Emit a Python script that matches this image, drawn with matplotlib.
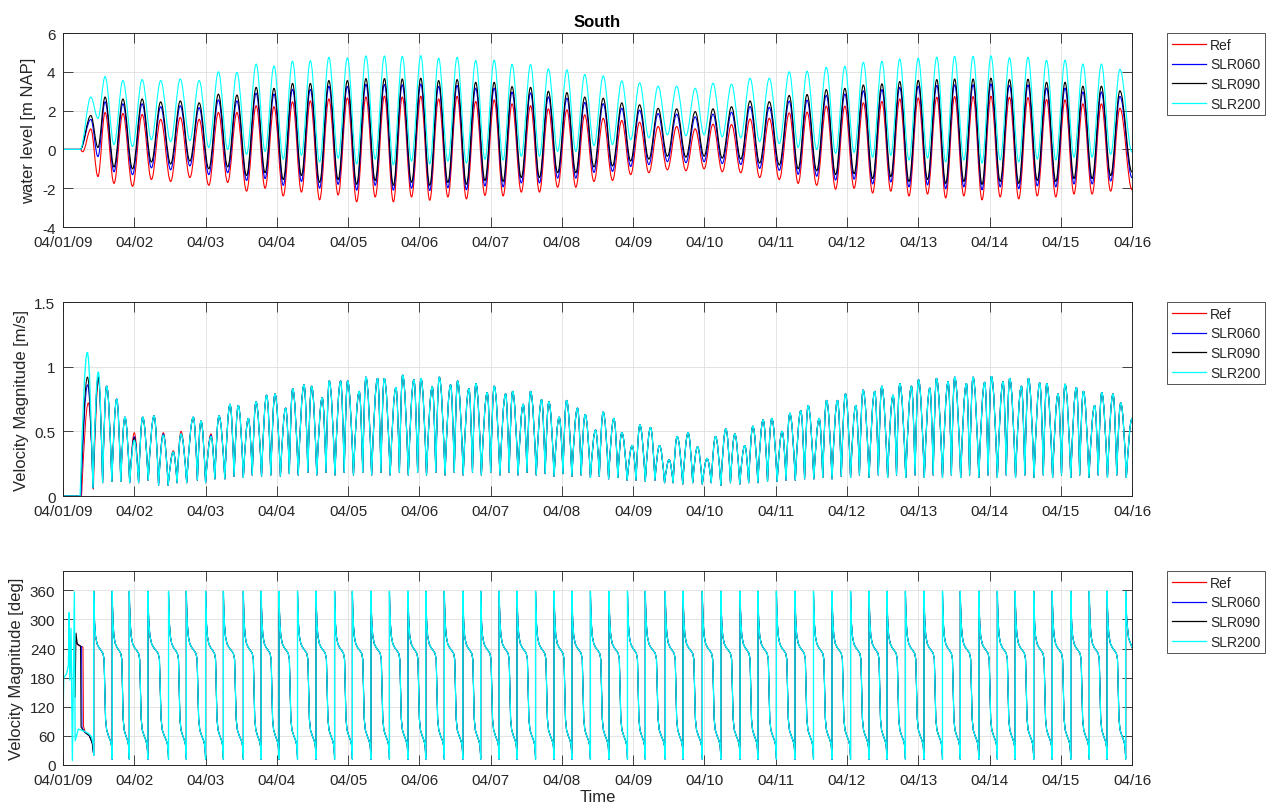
import matplotlib
matplotlib.use('Agg')
import matplotlib.pyplot as plt
from matplotlib.path import Path
from matplotlib.patches import PathPatch
from matplotlib.lines import Line2D

plt.rcParams['font.family'] = ['Liberation Sans', 'DejaVu Sans']
plt.rcParams['axes.unicode_minus'] = False

# ---------------------------------------------------------------- axes / labels
day_ticks = list(range(16))
day_labels = ['04/01/09', '04/02', '04/03', '04/04', '04/05', '04/06', '04/07', '04/08',
              '04/09', '04/10', '04/11', '04/12', '04/13', '04/14', '04/15', '04/16']
series_names = ['Ref', 'SLR060', 'SLR090', 'SLR200']
series_colors = ['#ff0000', '#0000ff', '#000000', '#00ffff']

wl_yticks = [-4, -2, 0, 2, 4, 6]
vel_yticks = [0, 0.5, 1, 1.5]
vel_yticklabels = ['0', '0.5', '1', '1.5']
dir_yticks = [0, 60, 120, 180, 240, 300, 360]

# ---------------------------------------------------------------- water level (m NAP)
# times (days after 04/01/09 00:00) of high and low waters
hw_t = [0.39, 0.59, 0.84, 1.11, 1.37, 1.645, 1.91, 2.18, 2.44, 2.71,
        2.96, 3.22, 3.47, 3.73, 3.99, 4.25, 4.51, 4.76, 5.02, 5.27,
        5.53, 5.79, 6.05, 6.30, 6.56, 6.81, 7.07, 7.32, 7.58, 7.84,
        8.09, 8.35, 8.61, 8.87, 9.12, 9.38, 9.64, 9.91, 10.19, 10.44,
        10.71, 10.97, 11.23, 11.49, 11.74, 12.00, 12.26, 12.51, 12.77, 13.02,
        13.28, 13.54, 13.80, 14.06, 14.31, 14.57, 14.83]
lw_t = [0.49, 0.715, 0.975, 1.24, 1.51, 1.78, 2.045, 2.31, 2.575, 2.835,
        3.09, 3.345, 3.60, 3.86, 4.12, 4.38, 4.635, 4.89, 5.145, 5.40,
        5.66, 5.92, 6.175, 6.43, 6.685, 6.94, 7.195, 7.45, 7.71, 7.965,
        8.22, 8.48, 8.74, 8.995, 9.25, 9.51, 9.775, 10.05, 10.315, 10.575,
        10.84, 11.10, 11.36, 11.615, 11.87, 12.13, 12.385, 12.64, 12.895, 13.15,
        13.41, 13.67, 13.93, 14.185, 14.44, 14.70, 15.0]

wl_ref_hi = [1.05, 1.90, 1.85, 1.80, 1.55, 1.65, 1.55, 1.90, 1.90, 2.25,
             2.20, 2.45, 2.50, 2.60, 2.65, 2.70, 2.75, 2.70, 2.74, 2.60,
             2.74, 2.47, 2.55, 2.35, 2.25, 2.09, 2.04, 1.78, 1.60, 1.49,
             1.40, 1.18, 1.18, 1.06, 1.30, 1.28, 1.57, 1.60, 1.88, 1.92,
             2.23, 2.23, 2.40, 2.47, 2.60, 2.65, 2.69, 2.72, 2.72, 2.74,
             2.69, 2.67, 2.57, 2.55, 2.35, 2.35, 2.12]
wl_ref_lo = [-1.40, -1.75, -1.90, -1.55, -1.65, -1.45, -1.85, -1.70, -2.15, -2.00,
             -2.40, -2.20, -2.60, -2.35, -2.70, -2.45, -2.70, -2.45, -2.62, -2.45,
             -2.55, -2.37, -2.40, -2.20, -2.20, -1.95, -1.95, -1.65, -1.60, -1.30,
             -1.20, -1.05, -1.10, -1.00, -1.15, -1.20, -1.45, -1.55, -1.75, -1.85,
             -2.05, -2.00, -2.25, -2.15, -2.40, -2.30, -2.50, -2.40, -2.60, -2.45,
             -2.55, -2.40, -2.45, -2.30, -2.30, -2.15, -2.08]
wl_060_hi = [1.55, 2.45, 2.35, 2.35, 2.20, 2.25, 2.15, 2.55, 2.50, 2.90,
             2.85, 3.10, 3.10, 3.25, 3.25, 3.35, 3.35, 3.33, 3.37, 3.25,
             3.30, 3.16, 3.16, 2.95, 2.91, 2.71, 2.64, 2.42, 2.36, 2.12,
             2.02, 1.85, 1.82, 1.68, 1.82, 1.92, 2.21, 2.17, 2.49, 2.54,
             2.79, 2.85, 3.02, 3.08, 3.20, 3.26, 3.30, 3.33, 3.33, 3.37,
             3.30, 3.32, 3.16, 3.16, 2.96, 2.96, 2.73]
wl_060_lo = [-0.37, -1.15, -1.30, -0.95, -1.05, -0.85, -1.30, -1.20, -1.60, -1.50,
             -1.85, -1.65, -2.00, -1.80, -2.10, -1.85, -2.10, -2.00, -2.12, -1.98,
             -2.08, -1.88, -1.93, -1.73, -1.73, -1.48, -1.48, -1.18, -1.13, -0.88,
             -0.78, -0.63, -0.68, -0.63, -0.73, -0.78, -0.98, -1.08, -1.28, -1.38,
             -1.58, -1.53, -1.78, -1.68, -1.93, -1.83, -2.03, -1.93, -2.08, -1.93,
             -2.03, -1.88, -1.93, -1.78, -1.78, -1.63, -1.46]
wl_090_hi = [1.75, 2.70, 2.60, 2.60, 2.45, 2.50, 2.40, 2.85, 2.80, 3.20,
             3.15, 3.40, 3.40, 3.55, 3.55, 3.65, 3.65, 3.63, 3.67, 3.55,
             3.60, 3.46, 3.46, 3.24, 3.20, 3.00, 2.93, 2.70, 2.64, 2.40,
             2.30, 2.12, 2.09, 1.95, 2.09, 2.20, 2.50, 2.46, 2.78, 2.83,
             3.08, 3.15, 3.32, 3.38, 3.50, 3.56, 3.60, 3.63, 3.63, 3.67,
             3.60, 3.62, 3.46, 3.46, 3.26, 3.26, 3.02]
wl_090_lo = [0.10, -0.90, -1.00, -0.65, -0.75, -0.60, -1.00, -0.90, -1.35, -1.20,
             -1.55, -1.35, -1.70, -1.55, -1.80, -1.60, -1.85, -1.70, -1.85, -1.70,
             -1.80, -1.60, -1.65, -1.45, -1.45, -1.20, -1.20, -0.90, -0.85, -0.60,
             -0.50, -0.35, -0.40, -0.35, -0.45, -0.50, -0.70, -0.80, -1.00, -1.10,
             -1.30, -1.25, -1.50, -1.40, -1.65, -1.55, -1.75, -1.65, -1.80, -1.65,
             -1.75, -1.60, -1.65, -1.50, -1.50, -1.35, -1.17]
wl_200_hi = [2.70, 3.75, 3.55, 3.60, 3.55, 3.63, 3.55, 4.00, 3.97, 4.40,
             4.30, 4.55, 4.57, 4.75, 4.72, 4.82, 4.82, 4.80, 4.83, 4.70,
             4.75, 4.58, 4.60, 4.39, 4.37, 4.15, 4.10, 3.86, 3.79, 3.53,
             3.43, 3.26, 3.26, 3.15, 3.41, 3.36, 3.67, 3.67, 4.00, 4.03,
             4.23, 4.28, 4.49, 4.54, 4.66, 4.70, 4.76, 4.80, 4.80, 4.82,
             4.73, 4.75, 4.59, 4.60, 4.40, 4.40, 4.13]
wl_200_lo = [1.60, 0.25, 0.15, 0.50, 0.40, 0.45, 0.10, 0.00, -0.25, -0.10,
             -0.50, -0.30, -0.65, -0.45, -0.75, -0.50, -0.80, -0.60, -0.75, -0.60,
             -0.70, -0.50, -0.55, -0.35, -0.35, -0.10, -0.10, 0.20, 0.25, 0.50,
             0.60, 0.75, 0.70, 0.75, 0.65, 0.60, 0.40, 0.30, 0.10, 0.00,
             -0.20, -0.15, -0.40, -0.30, -0.55, -0.45, -0.65, -0.55, -0.70, -0.55,
             -0.65, -0.50, -0.55, -0.40, -0.40, -0.25, -0.14]
# quiet start before the tide enters the model
wl_start_t = {'Ref': [0.0, 0.24, 0.275], 'SLR060': [0.0, 0.24], 'SLR090': [0.0, 0.24], 'SLR200': [0.0, 0.24]}
wl_start_v = {'Ref': [0.0, 0.0, -0.12], 'SLR060': [0.0, 0.0], 'SLR090': [0.0, 0.0], 'SLR200': [0.0, 0.0]}

# ---------------------------------------------------------------- velocity magnitude (m/s)
# alternating extremes (start-up part differs per run, the rest is shared)
vel_start_t = {
    'Ref':    [0.0, 0.26, 0.355, 0.425, 0.50, 0.555, 0.612, 0.685, 0.753, 0.81, 0.869, 0.935, 1.000, 1.06, 1.117, 1.195, 1.277, 1.34, 1.407, 1.475, 1.547, 1.60, 1.655, 1.735, 1.828, 1.885, 1.936, 2.00, 2.076, 2.13],
    'SLR060': [0.0, 0.25, 0.345, 0.42, 0.495, 0.555, 0.612, 0.685, 0.753, 0.81, 0.869, 0.935, 1.000, 1.06, 1.117, 1.195, 1.277, 1.34, 1.407, 1.475, 1.547, 1.60, 1.655, 1.735, 1.828, 1.885, 1.936, 2.00, 2.076, 2.13],
    'SLR090': [0.0, 0.245, 0.343, 0.42, 0.495, 0.555, 0.612, 0.685, 0.753, 0.81, 0.869, 0.935, 1.000, 1.06, 1.117, 1.195, 1.277, 1.34, 1.407, 1.475, 1.547, 1.60, 1.655, 1.735, 1.828, 1.885, 1.936, 2.00, 2.076, 2.13],
    'SLR200': [0.0, 0.24, 0.341, 0.42, 0.495, 0.555, 0.612, 0.685, 0.753, 0.81, 0.869, 0.935, 1.000, 1.06, 1.117, 1.195, 1.277, 1.34, 1.407, 1.475, 1.547, 1.60, 1.655, 1.735, 1.828, 1.885, 1.936, 2.00, 2.076, 2.13],
}
vel_start_v = {
    'Ref':    [0.0, 0.0, 0.72, 0.05, 0.90, 0.10, 0.85, 0.11, 0.75, 0.11, 0.61, 0.10, 0.49, 0.10, 0.61, 0.12, 0.62, 0.08, 0.49, 0.08, 0.35, 0.10, 0.50, 0.10, 0.61, 0.12, 0.58, 0.10, 0.48, 0.13],
    'SLR060': [0.0, 0.0, 0.86, 0.06, 0.92, 0.10, 0.85, 0.11, 0.75, 0.11, 0.61, 0.10, 0.46, 0.10, 0.61, 0.12, 0.62, 0.08, 0.48, 0.08, 0.34, 0.10, 0.48, 0.10, 0.61, 0.12, 0.58, 0.10, 0.47, 0.13],
    'SLR090': [0.0, 0.0, 0.92, 0.06, 0.92, 0.10, 0.85, 0.11, 0.75, 0.11, 0.61, 0.10, 0.45, 0.10, 0.61, 0.12, 0.62, 0.08, 0.47, 0.08, 0.34, 0.10, 0.48, 0.10, 0.61, 0.12, 0.58, 0.10, 0.46, 0.13],
    'SLR200': [0.0, 0.0, 1.11, 0.06, 0.96, 0.10, 0.85, 0.11, 0.75, 0.11, 0.61, 0.10, 0.43, 0.10, 0.61, 0.12, 0.62, 0.08, 0.47, 0.08, 0.34, 0.10, 0.48, 0.10, 0.61, 0.12, 0.58, 0.10, 0.46, 0.13],
}
vel_t = [2.188, 2.27, 2.343, 2.40, 2.459, 2.53, 2.600, 2.655, 2.707, 2.785,
         2.857, 2.915, 2.974, 3.05, 3.124, 3.175, 3.222, 3.30, 3.381, 3.435,
         3.488, 3.56, 3.637, 3.69, 3.735, 3.815, 3.895, 3.945, 3.993, 4.075,
         4.156, 4.205, 4.250, 4.33, 4.414, 4.46, 4.507, 4.59, 4.671, 4.72,
         4.765, 4.845, 4.923, 4.975, 5.022, 5.10, 5.181, 5.23, 5.279, 5.36,
         5.438, 5.49, 5.536, 5.615, 5.695, 5.745, 5.793, 5.87, 5.952, 6.00,
         6.050, 6.13, 6.210, 6.26, 6.308, 6.385, 6.457, 6.51, 6.560, 6.64,
         6.715, 6.765, 6.817, 6.89, 6.962, 7.015, 7.065, 7.14, 7.219, 7.27,
         7.327, 7.40, 7.472, 7.525, 7.579, 7.655, 7.729, 7.785, 7.841, 7.915,
         7.986, 8.04, 8.094, 8.17, 8.244, 8.305, 8.370, 8.44, 8.505, 8.56,
         8.617, 8.695, 8.771, 8.835, 8.903, 8.97, 9.038, 9.095, 9.155, 9.23,
         9.300, 9.365, 9.426, 9.495, 9.566, 9.62, 9.679, 9.75, 9.823, 9.885,
         9.945, 10.02, 10.090, 10.145, 10.198, 10.275, 10.352, 10.405, 10.455, 10.535,
         10.610, 10.66, 10.713, 10.79, 10.867, 10.92, 10.979, 11.05, 11.124, 11.175,
         11.226, 11.31, 11.390, 11.44, 11.488, 11.57, 11.647, 11.695, 11.741, 11.825,
         11.905, 11.955, 12.003, 12.085, 12.162, 12.21, 12.255, 12.34, 12.419, 12.465,
         12.512, 12.595, 12.676, 12.72, 12.769, 12.85, 12.933, 12.98, 13.026, 13.11,
         13.190, 13.235, 13.283, 13.365, 13.448, 13.495, 13.546, 13.625, 13.705, 13.755,
         13.803, 13.885, 13.962, 14.01, 14.060, 14.14, 14.219, 14.265, 14.317, 14.395,
         14.476, 14.525, 14.574, 14.655, 14.733, 14.785, 14.841, 14.92, 15.0]
vel_v = [0.62, 0.13, 0.71, 0.15, 0.70, 0.14, 0.60, 0.16, 0.73, 0.15,
         0.78, 0.16, 0.79, 0.15, 0.68, 0.17, 0.83, 0.16, 0.86, 0.18,
         0.85, 0.16, 0.76, 0.18, 0.89, 0.16, 0.89, 0.18, 0.89, 0.16,
         0.81, 0.18, 0.92, 0.16, 0.91, 0.18, 0.91, 0.16, 0.84, 0.18,
         0.935, 0.16, 0.90, 0.18, 0.91, 0.16, 0.845, 0.18, 0.92, 0.16,
         0.86, 0.18, 0.89, 0.16, 0.83, 0.18, 0.87, 0.16, 0.80, 0.18,
         0.85, 0.16, 0.79, 0.18, 0.81, 0.16, 0.71, 0.18, 0.81, 0.16,
         0.745, 0.17, 0.73, 0.15, 0.61, 0.17, 0.74, 0.15, 0.68, 0.16,
         0.63, 0.14, 0.51, 0.15, 0.65, 0.13, 0.60, 0.14, 0.49, 0.12,
         0.39, 0.12, 0.55, 0.11, 0.53, 0.12, 0.39, 0.10, 0.28, 0.10,
         0.46, 0.09, 0.49, 0.10, 0.38, 0.09, 0.29, 0.10, 0.46, 0.08,
         0.52, 0.10, 0.48, 0.09, 0.39, 0.10, 0.54, 0.10, 0.59, 0.11,
         0.60, 0.11, 0.50, 0.12, 0.64, 0.12, 0.66, 0.13, 0.70, 0.13,
         0.60, 0.14, 0.74, 0.13, 0.74, 0.15, 0.79, 0.14, 0.70, 0.16,
         0.82, 0.14, 0.81, 0.16, 0.85, 0.14, 0.78, 0.16, 0.87, 0.14,
         0.85, 0.16, 0.90, 0.14, 0.835, 0.16, 0.91, 0.14, 0.885, 0.16,
         0.92, 0.14, 0.87, 0.16, 0.92, 0.14, 0.88, 0.16, 0.925, 0.14,
         0.885, 0.16, 0.91, 0.14, 0.85, 0.16, 0.91, 0.14, 0.875, 0.16,
         0.87, 0.14, 0.79, 0.16, 0.865, 0.14, 0.84, 0.16, 0.81, 0.14,
         0.70, 0.16, 0.80, 0.14, 0.79, 0.16, 0.72, 0.14, 0.60]

# ---------------------------------------------------------------- flow direction (deg)
dir_start_t = {
    'Ref':    [0.19, 0.22, 0.28, 0.287, 0.31, 0.37, 0.41, 0.43],
    'SLR060': [0.18, 0.21, 0.26, 0.266, 0.30, 0.37, 0.41, 0.43],
    'SLR090': [0.17, 0.182, 0.20, 0.245, 0.252, 0.30, 0.37, 0.41, 0.43],
    'SLR200': [0.0, 0.01, 0.05, 0.075, 0.084, 0.095, 0.112, 0.131, 0.159, 0.17, 0.215, 0.29, 0.355, 0.40, 0.425, 0.43],
}
dir_start_v = {
    'Ref':    [250, 246, 243, 80, 68, 60, 45, 20],
    'SLR060': [255, 248, 244, 78, 68, 60, 45, 20],
    'SLR090': [140, 272, 250, 245, 78, 68, 60, 45, 20],
    'SLR200': [90, 180, 188, 205, 314, 175, 282, 9, 357, 50, 74, 70, 65, 58, 41, 20],
}
# wrap-around instants (direction passes 0/360)
dir_jump_t = [0.43, 0.69, 0.93, 1.19, 1.48, 1.73, 2.00, 2.25, 2.53, 2.78,
              3.03, 3.29, 3.55, 3.81, 4.06, 4.32, 4.58, 4.84, 5.09, 5.35,
              5.61, 5.86, 6.12, 6.37, 6.63, 6.89, 7.14, 7.40, 7.66, 7.92,
              8.17, 8.45, 8.70, 8.97, 9.23, 9.50, 9.75, 10.01, 10.27, 10.53,
              10.79, 11.05, 11.31, 11.56, 11.82, 12.08, 12.34, 12.59, 12.85, 13.11,
              13.36, 13.62, 13.88, 14.14, 14.40, 14.65, 14.91]
# course of the direction between two wrap-arounds (fraction of the interval, degrees)
dir_phase = [0.0, 0.015, 0.05, 0.10, 0.18, 0.28, 0.40, 0.50, 0.56, 0.60, 0.64, 0.70, 0.80, 0.90, 0.96, 0.99, 1.0]
dir_shape = [358, 330, 292, 266, 250, 242, 236, 230, 218, 160, 95, 72, 60, 50, 40, 22, 12]
dir_end_t = [14.91, 14.925, 14.95, 15.0]
dir_end_v = [358, 300, 262, 242]

# line widths: the SLR200 run is drawn last and slightly wider so it stays on top
line_widths = {'Ref': 0.7, 'SLR060': 0.7, 'SLR090': 0.7, 'SLR200': 0.95}


# ---------------------------------------------------------------- path helpers
def tide_path(t, y):
    """Smooth curve through alternating highs/lows (flat tangent at every extreme)."""
    verts = [(t[0], y[0])]
    codes = [Path.MOVETO]
    for i in range(1, len(t)):
        t0, y0, t1, y1 = t[i - 1], y[i - 1], t[i], y[i]
        d = t1 - t0
        verts += [(t0 + 0.3642 * d, y0), (t1 - 0.3642 * d, y1), (t1, y1)]
        codes += [Path.CURVE4] * 3
    return Path(verts, codes)


def arch_path(t, y):
    """Rounded crests and pointed troughs, as for a current speed signal."""
    verts = [(t[0], y[0])]
    codes = [Path.MOVETO]
    for i in range(1, len(t)):
        t0, y0, t1, y1 = t[i - 1], y[i - 1], t[i], y[i]
        d = t1 - t0
        if y1 > y0:
            c1 = (t0 + 0.334 * d, y0 + 0.512 * (y1 - y0))
            c2 = (t1 - 0.36 * d, y1)
        elif y1 < y0:
            c1 = (t0 + 0.36 * d, y0)
            c2 = (t1 - 0.334 * d, y1 + 0.512 * (y0 - y1))
        else:
            c1 = (t0 + d / 3, y0)
            c2 = (t1 - d / 3, y1)
        verts += [c1, c2, (t1, y1)]
        codes += [Path.CURVE4] * 3
    return Path(verts, codes)


def interleave(a, b):
    out = []
    for x, y in zip(a, b):
        out += [x, y]
    return out


def style_axes(ax, yticks, ylim, ylabel, yticklabels=None):
    ax.set_xlim(0, 15)
    ax.set_ylim(*ylim)
    ax.set_xticks(day_ticks)
    ax.set_xticklabels(day_labels)
    ax.set_yticks(yticks)
    if yticklabels is not None:
        ax.set_yticklabels(yticklabels)
    ax.grid(True, color='#dfdfdf', linewidth=0.6)
    ax.set_axisbelow(True)
    ax.tick_params(direction='in', length=7.5, width=0.6, top=True, right=True,
                   labelsize=11, colors='#262626')
    ax.tick_params(axis='x', pad=5.5)
    ax.tick_params(axis='y', pad=5.5)
    for s in ax.spines.values():
        s.set_color('#262626')
        s.set_linewidth(0.7)
    ax.set_ylabel(ylabel, fontsize=12, color='#262626')
    handles = [Line2D([], [], color=c, lw=0.9) for c in series_colors]
    leg = ax.legend(handles, series_names, loc='upper left', bbox_to_anchor=(1.0328, 1.0),
                    borderaxespad=0, frameon=True, fancybox=False, edgecolor='#262626',
                    fontsize=10, handlelength=2.45, handletextpad=0.3, borderpad=0.35,
                    labelspacing=0.4)
    leg.get_frame().set_linewidth(0.7)
    for txt in leg.get_texts():
        txt.set_color('#262626')


fig = plt.figure(figsize=(12.66, 8.12), dpi=100)
ax1 = fig.add_axes([0.0498, 0.7192, 0.8444, 0.2389])
ax2 = fig.add_axes([0.0498, 0.3879, 0.8444, 0.2389])
ax3 = fig.add_axes([0.0498, 0.0567, 0.8444, 0.2389])

wl_hi = {'Ref': wl_ref_hi, 'SLR060': wl_060_hi, 'SLR090': wl_090_hi, 'SLR200': wl_200_hi}
wl_lo = {'Ref': wl_ref_lo, 'SLR060': wl_060_lo, 'SLR090': wl_090_lo, 'SLR200': wl_200_lo}

for name, col in zip(series_names, series_colors):
    lw = line_widths[name]
    # water level
    t = wl_start_t[name] + interleave(hw_t, lw_t)
    y = wl_start_v[name] + interleave(wl_hi[name], wl_lo[name])
    ax1.add_patch(PathPatch(tide_path(t, y), fill=False, edgecolor=col, lw=0.8))

    # velocity magnitude
    t = vel_start_t[name] + vel_t
    y = vel_start_v[name] + vel_v
    ax2.add_patch(PathPatch(arch_path(t, y), fill=False, edgecolor=col, lw=lw))

    # direction
    td = list(dir_start_t[name])
    vd = list(dir_start_v[name])
    for a, b in zip(dir_jump_t[:-1], dir_jump_t[1:]):
        for p, s in zip(dir_phase, dir_shape):
            td.append(a + p * (b - a))
            vd.append(s)
    td += dir_end_t
    vd += dir_end_v
    ax3.plot(td, vd, color=col, lw=lw)

style_axes(ax1, wl_yticks, (-4, 6), 'water level [m NAP]')
style_axes(ax2, vel_yticks, (0, 1.5), 'Velocity Magnitude [m/s]', vel_yticklabels)
style_axes(ax3, dir_yticks, (0, 400), 'Velocity Magnitude [deg]')
ax1.set_title('South', fontsize=12, fontweight='bold', color='#000000', pad=5)
ax3.set_xlabel('Time', fontsize=12, color='#262626', labelpad=2)

fig.savefig('out.png', dpi=100)
